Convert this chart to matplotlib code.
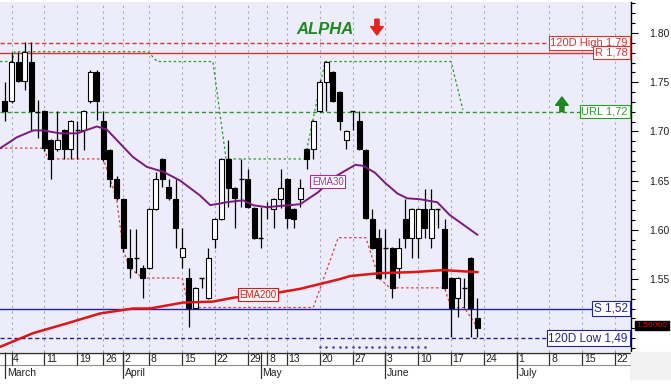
import matplotlib
matplotlib.use("Agg")
import matplotlib.pyplot as plt
from matplotlib.ticker import FixedLocator, MultipleLocator
from matplotlib.patches import Rectangle
import matplotlib.transforms as mtransforms

plt.rcParams['font.family'] = ['Liberation Sans', 'DejaVu Sans']

# daily candles (one per trading day, index 0..72)
opens = [1.731, 1.731, 1.771, 1.751, 1.771, 1.721, 1.721, 1.691, 1.682, 1.701,
         1.682, 1.701, 1.701, 1.731, 1.760, 1.711, 1.681, 1.652, 1.631, 1.571,
         1.571, 1.561, 1.561, 1.621, 1.672, 1.643, 1.631, 1.572, 1.551, 1.521,
         1.551, 1.531, 1.591, 1.611, 1.672, 1.642, 1.652, 1.652, 1.622, 1.592,
         1.623, 1.621, 1.631, 1.652, 1.621, 1.631, 1.682, 1.682, 1.721, 1.750,
         1.760, 1.740, 1.691, 1.721, 1.711, 1.681, 1.611, 1.592, 1.582, 1.582,
         1.561, 1.611, 1.592, 1.592, 1.621, 1.592, 1.621, 1.601, 1.551, 1.531,
         1.541, 1.571, 1.510]
highs = [1.750, 1.781, 1.781, 1.791, 1.791, 1.732, 1.722, 1.692, 1.721, 1.702,
         1.712, 1.711, 1.722, 1.762, 1.762, 1.721, 1.682, 1.655, 1.632, 1.601,
         1.601, 1.564, 1.622, 1.659, 1.673, 1.652, 1.652, 1.602, 1.561, 1.542,
         1.551, 1.582, 1.612, 1.673, 1.691, 1.643, 1.672, 1.662, 1.623, 1.623,
         1.628, 1.632, 1.662, 1.653, 1.622, 1.652, 1.683, 1.712, 1.752, 1.772,
         1.761, 1.741, 1.701, 1.721, 1.721, 1.682, 1.621, 1.601, 1.601, 1.583,
         1.592, 1.631, 1.622, 1.622, 1.641, 1.641, 1.621, 1.611, 1.552, 1.552,
         1.551, 1.572, 1.531]
lows = [1.711, 1.729, 1.750, 1.742, 1.701, 1.693, 1.680, 1.652, 1.680, 1.672,
        1.672, 1.672, 1.681, 1.729, 1.712, 1.670, 1.643, 1.630, 1.577, 1.551,
        1.556, 1.531, 1.560, 1.620, 1.643, 1.630, 1.582, 1.561, 1.501, 1.520,
        1.541, 1.530, 1.582, 1.610, 1.623, 1.602, 1.623, 1.622, 1.591, 1.582,
        1.611, 1.602, 1.622, 1.602, 1.602, 1.623, 1.662, 1.672, 1.720, 1.721,
        1.730, 1.701, 1.682, 1.701, 1.681, 1.611, 1.580, 1.550, 1.551, 1.531,
        1.551, 1.582, 1.571, 1.571, 1.592, 1.582, 1.602, 1.540, 1.491, 1.511,
        1.521, 1.491, 1.491]
closes = [1.721, 1.771, 1.751, 1.781, 1.721, 1.720, 1.683, 1.672, 1.691, 1.682,
          1.711, 1.701, 1.721, 1.760, 1.731, 1.672, 1.652, 1.632, 1.582, 1.561,
          1.571, 1.551, 1.621, 1.652, 1.652, 1.632, 1.602, 1.582, 1.521, 1.541,
          1.551, 1.571, 1.611, 1.672, 1.642, 1.632, 1.652, 1.623, 1.592, 1.592,
          1.623, 1.631, 1.642, 1.612, 1.611, 1.642, 1.672, 1.711, 1.750, 1.771,
          1.731, 1.711, 1.700, 1.721, 1.682, 1.612, 1.582, 1.551, 1.582, 1.541,
          1.582, 1.592, 1.621, 1.621, 1.602, 1.621, 1.621, 1.541, 1.521, 1.551,
          1.541, 1.521, 1.500]

# moving averages (day index, value)
ema30_x = [-0.7, 1.8, 4.3, 5.8, 8.4, 11.0, 14.0, 15.5, 17.5, 19.5, 21.6, 24.1,
           26.7, 29.7, 31.3, 33.8, 36.3, 37.8, 39.9, 45.0, 47.7, 50.3, 53.4,
           54.6, 56.4, 57.9, 59.8, 61.3, 63.3, 65.9, 67.8, 72.0]
ema30_y = [1.683, 1.694, 1.701, 1.701, 1.698, 1.698, 1.705, 1.702, 1.688, 1.674,
           1.664, 1.659, 1.650, 1.635, 1.625, 1.628, 1.630, 1.625, 1.623, 1.626,
           1.638, 1.654, 1.666, 1.665, 1.658, 1.648, 1.637, 1.632, 1.631, 1.628,
           1.615, 1.595]
ema200_x = [-0.76, 4.3, 9.5, 14.5, 19.5, 22.1, 27.1, 31.7, 34.8, 41.5, 45.0,
            51.1, 52.6, 57.2, 62.2, 66.8, 72.0]
ema200_y = [1.481, 1.495, 1.505, 1.515, 1.520, 1.520, 1.526, 1.527, 1.531, 1.536,
            1.540, 1.550, 1.553, 1.556, 1.557, 1.559, 1.557]

# trailing stops
sup_x = [-0.76, 6.0, 6.5, 15.0, 16.0, 17.0, 18.0, 19.0, 21.0, 27.0, 28.0, 47.0,
         50.8, 55.0, 57.0, 58.7, 67.0, 68.0, 70.0, 72.0]
sup_y = [1.683, 1.683, 1.672, 1.672, 1.652, 1.632, 1.580, 1.561, 1.551, 1.551,
         1.521, 1.521, 1.592, 1.592, 1.551, 1.541, 1.541, 1.521, 1.521, 1.501]
res_x = [-0.76, 1.0, 1.5, 21.8, 23.2, 31.7, 33.7, 45.7, 48.8, 68.0, 69.8]
res_y = [1.771, 1.771, 1.781, 1.781, 1.771, 1.771, 1.672, 1.672, 1.771, 1.771, 1.722]

# dotted marker row
dots_x = [48, 49, 50, 51, 52, 53, 54, 55, 56, 57, 58, 59, 60, 61, 62, 63, 64]
dots_y = 1.481

levels = [1.79, 1.78, 1.72, 1.52, 1.49]
level_labels = ['120D High 1,79', 'R 1,78', 'URL 1,72', 'S 1,52', '120D Low 1,49']
level_colors = ['#E03030', '#E03030', '#2E9A2E', '#2323A0', '#2323A0']
level_styles = ['--', '-', '--', '-', '--']

last_price = 1.50

day_ticks = [1, 6, 11, 15, 18, 22, 27, 32, 37, 40, 43, 48, 53, 58, 63, 68, 73, 78, 83, 88, 93]
day_labels = ['4', '11', '19', '26', '2', '8', '15', '22', '29', '8', '13', '20', '27',
              '3', '10', '17', '24', '1', '8', '15', '22']
month_ticks = [0, 18, 39, 58, 78]
month_labels = ['March', 'April', 'May', 'June', 'July']

W, H = 671, 386
fig = plt.figure(figsize=(W / 100, H / 100), dpi=100)
fig.patch.set_facecolor('white')

ax = fig.add_axes([0, (H - 352) / H, 631 / W, 350 / H])
ax.set_facecolor('#ECECFA')
ax.set_xlim(-0.76, 95.43)
ax.set_ylim(1.4758, 1.8315)

for t in day_ticks:
    ax.axvline(t, color='#A9A9BC', lw=0.8, ls=(0, (2, 3)), zorder=0.5)

for lv, col, ls in zip(levels, level_colors, level_styles):
    ax.axhline(lv, color=col, lw=1.0, ls=ls if ls == '-' else (0, (3, 2)), zorder=1)

ax.plot(res_x, res_y, color='#2E9A2E', lw=0.9, ls=(0, (2, 2)), zorder=1.2)
ax.plot(sup_x, sup_y, color='#E04040', lw=0.9, ls=(0, (2, 2)), zorder=1.2)
ax.scatter(dots_x, [dots_y] * len(dots_x), s=0.8, color='#4A4AA8', zorder=1.2)

# candles
idx = list(range(len(opens)))
ax.vlines(idx, lows, highs, color='black', lw=0.9, zorder=2)
for i, o, c in zip(idx, opens, closes):
    if abs(c - o) < 0.002:
        ax.hlines(c, i - 0.38, i + 0.38, color='black', lw=1.0, zorder=3)
    else:
        ax.bar(i, abs(c - o), bottom=min(o, c), width=0.76,
               color='black' if c < o else 'white', edgecolor='black', lw=0.8, zorder=3)

ax.plot(ema30_x, ema30_y, color='#7A1A80', lw=1.4, zorder=4)
ax.plot(ema200_x, ema200_y, color='#E01515', lw=1.8, zorder=4)

box = dict(boxstyle='square,pad=0.15', fc='white', lw=0.8)
for lv, lab, col in zip(levels, level_labels, level_colors):
    fs = 8.5 if col == '#2323A0' else 8
    ax.text(94.95, lv, lab, color=col, fontsize=fs, ha='right', va='center',
            bbox=dict(box, ec=col), zorder=6)

ax.text(49.2, 1.649, 'EMA30', color='#A0309A', fontsize=7, ha='center', va='center',
        bbox=dict(box, ec='#A0309A'), zorder=6)
ax.text(38.6, 1.534, 'EMA200', color='#E01515', fontsize=7, ha='center', va='center',
        bbox=dict(box, ec='#E01515'), zorder=6)

ax.text(48.8, 1.804, 'ALPHA', color='#1A8A1A', fontsize=12, fontweight='bold',
        style='italic', ha='center', va='center', zorder=6)
ax.annotate('', xy=(56.7, 1.798), xytext=(56.7, 1.814),
            arrowprops=dict(facecolor='#E82020', edgecolor='#E82020', width=3,
                            headwidth=9, headlength=6, shrink=0), zorder=6)
ax.annotate('', xy=(84.9, 1.735), xytext=(84.9, 1.720),
            arrowprops=dict(facecolor='#1A8A1A', edgecolor='#1A8A1A', width=3,
                            headwidth=9, headlength=6, shrink=0), zorder=6)

# right price axis
ax.yaxis.tick_right()
ax.yaxis.set_major_locator(FixedLocator([1.55, 1.60, 1.65, 1.70, 1.75, 1.80]))
ax.yaxis.set_major_formatter(lambda v, p: f'{v:.2f}')
ax.yaxis.set_minor_locator(MultipleLocator(0.01))
ax.tick_params(axis='y', which='major', length=5, width=0.8, pad=8, labelsize=7.5,
               colors='black', labelcolor='#202020')
ax.tick_params(axis='y', which='minor', length=3, width=0.8)
ax.set_xticks([])
for s in ['left', 'top', 'bottom']:
    ax.spines[s].set_visible(False)
ax.spines['right'].set_linewidth(1.0)

trans = mtransforms.blended_transform_factory(ax.transAxes, ax.transData)
ax.text(1.009, last_price + 0.0025, f'{last_price:.5f}', transform=trans, color='#E00000',
        fontsize=6, ha='left', va='center', clip_on=False,
        bbox=dict(boxstyle='square,pad=0.15', fc='black', ec='black'))

# date band
fig.patches.append(Rectangle((631 / W, (H - 379) / H), 40 / W, 27 / H, color='#F2F2F2',
                             transform=fig.transFigure, zorder=0))
axd = fig.add_axes([0, (H - 379) / H, 631 / W, 27 / H])
axd.set_xlim(ax.get_xlim())
axd.set_ylim(27, 0)
axd.set_facecolor('white')
axd.axhline(0.5, color='#303030', lw=1.0)
axd.axhline(13, color='#909090', lw=0.8)
axd.vlines(day_ticks, 0, 13, color='#303030', lw=0.9)
axd.vlines(month_ticks, 0, 27, color='#303030', lw=0.9)
for t, lab in zip(day_ticks, day_labels):
    axd.text(t + 0.25, 7, lab, fontsize=7.5, ha='left', va='center', color='#202020')
for t, lab in zip(month_ticks, month_labels):
    axd.text(t + 0.25, 20.5, lab, fontsize=7.5, ha='left', va='center', color='#202020')
axd.set_xticks([])
axd.set_yticks([])
for s in ['left', 'top', 'bottom']:
    axd.spines[s].set_visible(False)
axd.spines['right'].set_color('#303030')

fig.savefig('out.png', dpi=100)
